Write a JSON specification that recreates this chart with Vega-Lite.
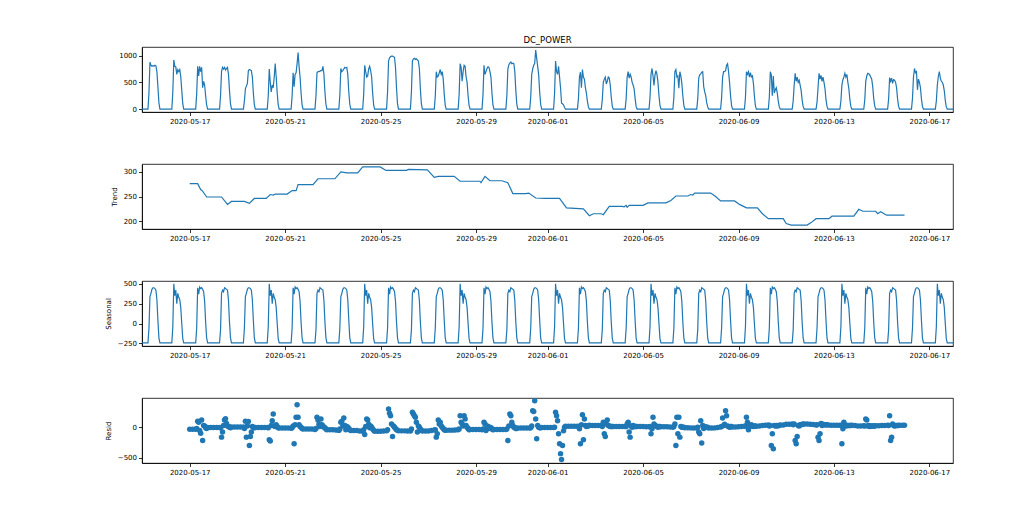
{
"$schema": "https://vega.github.io/schema/vega-lite/v6.json",
"autosize": {"type": "pad"},
"padding": {"left": 103, "top": 35, "right": 5, "bottom": 5},
"background": "white",
"config": {
  "font": "DejaVu Sans",
  "view": {"stroke": "black", "strokeWidth": 0.8},
  "axis": {"labelFontSize": 7, "titleFontSize": 7, "tickSize": 3.5, "tickColor": "black", "domainColor": "black", "domainWidth": 0.8, "tickWidth": 0.8, "grid": false, "labelColor": "black", "titleColor": "black", "titleFontWeight": "normal", "labelPadding": 2, "titlePadding": 6, "labelFont": "DejaVu Sans", "titleFont": "DejaVu Sans"}
},
"datasets": {
"power": [
{"t":"2020-05-15T00:00","v":0},
{"t":"2020-05-15T06:00","v":0},{"t":"2020-05-15T07:00","v":300},{"t":"2020-05-15T08:00","v":880},{"t":"2020-05-15T09:00","v":820},{"t":"2020-05-15T10:00","v":800},{"t":"2020-05-15T11:00","v":810},{"t":"2020-05-15T12:00","v":800},{"t":"2020-05-15T13:00","v":820},{"t":"2020-05-15T14:00","v":810},{"t":"2020-05-15T15:00","v":700},{"t":"2020-05-15T16:00","v":420},{"t":"2020-05-15T17:00","v":120},{"t":"2020-05-15T18:00","v":0},
{"t":"2020-05-16T06:00","v":0},{"t":"2020-05-16T07:00","v":320},{"t":"2020-05-16T08:00","v":920},{"t":"2020-05-16T09:00","v":800},{"t":"2020-05-16T10:00","v":790},{"t":"2020-05-16T11:00","v":650},{"t":"2020-05-16T12:00","v":740},{"t":"2020-05-16T13:00","v":700},{"t":"2020-05-16T14:00","v":740},{"t":"2020-05-16T15:00","v":600},{"t":"2020-05-16T16:00","v":350},{"t":"2020-05-16T17:00","v":100},{"t":"2020-05-16T18:00","v":0},
{"t":"2020-05-17T06:00","v":0},{"t":"2020-05-17T07:00","v":280},{"t":"2020-05-17T08:00","v":800},{"t":"2020-05-17T09:00","v":620},{"t":"2020-05-17T10:00","v":800},{"t":"2020-05-17T11:00","v":700},{"t":"2020-05-17T12:00","v":780},{"t":"2020-05-17T13:00","v":400},{"t":"2020-05-17T14:00","v":520},{"t":"2020-05-17T15:00","v":450},{"t":"2020-05-17T16:00","v":250},{"t":"2020-05-17T17:00","v":80},{"t":"2020-05-17T18:00","v":0},
{"t":"2020-05-18T06:00","v":0},{"t":"2020-05-18T07:00","v":250},{"t":"2020-05-18T08:00","v":700},{"t":"2020-05-18T09:00","v":780},{"t":"2020-05-18T10:00","v":750},{"t":"2020-05-18T11:00","v":780},{"t":"2020-05-18T12:00","v":730},{"t":"2020-05-18T13:00","v":760},{"t":"2020-05-18T14:00","v":780},{"t":"2020-05-18T15:00","v":650},{"t":"2020-05-18T16:00","v":350},{"t":"2020-05-18T17:00","v":100},{"t":"2020-05-18T18:00","v":0},
{"t":"2020-05-19T06:00","v":0},{"t":"2020-05-19T07:00","v":150},{"t":"2020-05-19T08:00","v":380},{"t":"2020-05-19T09:00","v":430},{"t":"2020-05-19T10:00","v":480},{"t":"2020-05-19T11:00","v":720},{"t":"2020-05-19T12:00","v":740},{"t":"2020-05-19T13:00","v":730},{"t":"2020-05-19T14:00","v":720},{"t":"2020-05-19T15:00","v":600},{"t":"2020-05-19T16:00","v":300},{"t":"2020-05-19T17:00","v":80},{"t":"2020-05-19T18:00","v":0},
{"t":"2020-05-20T06:00","v":0},{"t":"2020-05-20T07:00","v":250},{"t":"2020-05-20T08:00","v":750},{"t":"2020-05-20T09:00","v":500},{"t":"2020-05-20T10:00","v":320},{"t":"2020-05-20T11:00","v":450},{"t":"2020-05-20T12:00","v":400},{"t":"2020-05-20T13:00","v":600},{"t":"2020-05-20T14:00","v":850},{"t":"2020-05-20T15:00","v":600},{"t":"2020-05-20T16:00","v":300},{"t":"2020-05-20T17:00","v":80},{"t":"2020-05-20T18:00","v":0},
{"t":"2020-05-21T06:00","v":0},{"t":"2020-05-21T07:00","v":250},{"t":"2020-05-21T08:00","v":680},{"t":"2020-05-21T09:00","v":420},{"t":"2020-05-21T10:00","v":650},{"t":"2020-05-21T11:00","v":680},{"t":"2020-05-21T12:00","v":850},{"t":"2020-05-21T13:00","v":1060},{"t":"2020-05-21T14:00","v":800},{"t":"2020-05-21T15:00","v":600},{"t":"2020-05-21T16:00","v":300},{"t":"2020-05-21T17:00","v":80},{"t":"2020-05-21T18:00","v":0},
{"t":"2020-05-22T06:00","v":0},{"t":"2020-05-22T07:00","v":250},{"t":"2020-05-22T08:00","v":680},{"t":"2020-05-22T09:00","v":700},{"t":"2020-05-22T10:00","v":700},{"t":"2020-05-22T11:00","v":710},{"t":"2020-05-22T12:00","v":720},{"t":"2020-05-22T13:00","v":720},{"t":"2020-05-22T14:00","v":800},{"t":"2020-05-22T15:00","v":650},{"t":"2020-05-22T16:00","v":320},{"t":"2020-05-22T17:00","v":90},{"t":"2020-05-22T18:00","v":0},
{"t":"2020-05-23T06:00","v":0},{"t":"2020-05-23T07:00","v":260},{"t":"2020-05-23T08:00","v":760},{"t":"2020-05-23T09:00","v":700},{"t":"2020-05-23T10:00","v":720},{"t":"2020-05-23T11:00","v":750},{"t":"2020-05-23T12:00","v":780},{"t":"2020-05-23T13:00","v":770},{"t":"2020-05-23T14:00","v":780},{"t":"2020-05-23T15:00","v":650},{"t":"2020-05-23T16:00","v":320},{"t":"2020-05-23T17:00","v":90},{"t":"2020-05-23T18:00","v":0},
{"t":"2020-05-24T06:00","v":0},{"t":"2020-05-24T07:00","v":280},{"t":"2020-05-24T08:00","v":820},{"t":"2020-05-24T09:00","v":700},{"t":"2020-05-24T10:00","v":600},{"t":"2020-05-24T11:00","v":620},{"t":"2020-05-24T12:00","v":750},{"t":"2020-05-24T13:00","v":800},{"t":"2020-05-24T14:00","v":720},{"t":"2020-05-24T15:00","v":600},{"t":"2020-05-24T16:00","v":300},{"t":"2020-05-24T17:00","v":80},{"t":"2020-05-24T18:00","v":0},
{"t":"2020-05-25T06:00","v":0},{"t":"2020-05-25T07:00","v":320},{"t":"2020-05-25T08:00","v":900},{"t":"2020-05-25T09:00","v":960},{"t":"2020-05-25T10:00","v":980},{"t":"2020-05-25T11:00","v":990},{"t":"2020-05-25T12:00","v":990},{"t":"2020-05-25T13:00","v":980},{"t":"2020-05-25T14:00","v":970},{"t":"2020-05-25T15:00","v":780},{"t":"2020-05-25T16:00","v":400},{"t":"2020-05-25T17:00","v":100},{"t":"2020-05-25T18:00","v":0},
{"t":"2020-05-26T06:00","v":0},{"t":"2020-05-26T07:00","v":320},{"t":"2020-05-26T08:00","v":900},{"t":"2020-05-26T09:00","v":940},{"t":"2020-05-26T10:00","v":950},{"t":"2020-05-26T11:00","v":930},{"t":"2020-05-26T12:00","v":940},{"t":"2020-05-26T13:00","v":920},{"t":"2020-05-26T14:00","v":900},{"t":"2020-05-26T15:00","v":760},{"t":"2020-05-26T16:00","v":380},{"t":"2020-05-26T17:00","v":100},{"t":"2020-05-26T18:00","v":0},
{"t":"2020-05-27T06:00","v":0},{"t":"2020-05-27T07:00","v":240},{"t":"2020-05-27T08:00","v":700},{"t":"2020-05-27T09:00","v":600},{"t":"2020-05-27T10:00","v":620},{"t":"2020-05-27T11:00","v":680},{"t":"2020-05-27T12:00","v":740},{"t":"2020-05-27T13:00","v":650},{"t":"2020-05-27T14:00","v":700},{"t":"2020-05-27T15:00","v":560},{"t":"2020-05-27T16:00","v":280},{"t":"2020-05-27T17:00","v":70},{"t":"2020-05-27T18:00","v":0},
{"t":"2020-05-28T06:00","v":0},{"t":"2020-05-28T07:00","v":280},{"t":"2020-05-28T08:00","v":850},{"t":"2020-05-28T09:00","v":780},{"t":"2020-05-28T10:00","v":520},{"t":"2020-05-28T11:00","v":700},{"t":"2020-05-28T12:00","v":820},{"t":"2020-05-28T13:00","v":800},{"t":"2020-05-28T14:00","v":600},{"t":"2020-05-28T15:00","v":500},{"t":"2020-05-28T16:00","v":250},{"t":"2020-05-28T17:00","v":70},{"t":"2020-05-28T18:00","v":0},
{"t":"2020-05-29T06:00","v":0},{"t":"2020-05-29T07:00","v":270},{"t":"2020-05-29T08:00","v":820},{"t":"2020-05-29T09:00","v":650},{"t":"2020-05-29T10:00","v":700},{"t":"2020-05-29T11:00","v":760},{"t":"2020-05-29T12:00","v":790},{"t":"2020-05-29T13:00","v":780},{"t":"2020-05-29T14:00","v":700},{"t":"2020-05-29T15:00","v":600},{"t":"2020-05-29T16:00","v":300},{"t":"2020-05-29T17:00","v":80},{"t":"2020-05-29T18:00","v":0},
{"t":"2020-05-30T06:00","v":0},{"t":"2020-05-30T07:00","v":250},{"t":"2020-05-30T08:00","v":750},{"t":"2020-05-30T09:00","v":830},{"t":"2020-05-30T10:00","v":860},{"t":"2020-05-30T11:00","v":880},{"t":"2020-05-30T12:00","v":850},{"t":"2020-05-30T13:00","v":860},{"t":"2020-05-30T14:00","v":850},{"t":"2020-05-30T15:00","v":700},{"t":"2020-05-30T16:00","v":350},{"t":"2020-05-30T17:00","v":90},{"t":"2020-05-30T18:00","v":0},
{"t":"2020-05-31T06:00","v":0},{"t":"2020-05-31T07:00","v":220},{"t":"2020-05-31T08:00","v":650},{"t":"2020-05-31T09:00","v":750},{"t":"2020-05-31T10:00","v":820},{"t":"2020-05-31T11:00","v":850},{"t":"2020-05-31T12:00","v":1105},{"t":"2020-05-31T13:00","v":950},{"t":"2020-05-31T14:00","v":800},{"t":"2020-05-31T15:00","v":640},{"t":"2020-05-31T16:00","v":320},{"t":"2020-05-31T17:00","v":90},{"t":"2020-05-31T18:00","v":0},
{"t":"2020-06-01T06:00","v":0},{"t":"2020-06-01T07:00","v":300},{"t":"2020-06-01T08:00","v":900},{"t":"2020-06-01T09:00","v":700},{"t":"2020-06-01T10:00","v":650},{"t":"2020-06-01T11:00","v":800},{"t":"2020-06-01T12:00","v":600},{"t":"2020-06-01T13:00","v":400},{"t":"2020-06-01T14:00","v":110},{"t":"2020-06-01T15:00","v":100},{"t":"2020-06-01T16:00","v":80},{"t":"2020-06-01T17:00","v":30},{"t":"2020-06-01T18:00","v":0},
{"t":"2020-06-02T06:00","v":0},{"t":"2020-06-02T07:00","v":200},{"t":"2020-06-02T08:00","v":600},{"t":"2020-06-02T09:00","v":690},{"t":"2020-06-02T10:00","v":400},{"t":"2020-06-02T11:00","v":740},{"t":"2020-06-02T12:00","v":600},{"t":"2020-06-02T13:00","v":560},{"t":"2020-06-02T14:00","v":400},{"t":"2020-06-02T15:00","v":300},{"t":"2020-06-02T16:00","v":150},{"t":"2020-06-02T17:00","v":40},{"t":"2020-06-02T18:00","v":0},
{"t":"2020-06-03T06:00","v":0},{"t":"2020-06-03T07:00","v":180},{"t":"2020-06-03T08:00","v":500},{"t":"2020-06-03T09:00","v":560},{"t":"2020-06-03T10:00","v":600},{"t":"2020-06-03T11:00","v":470},{"t":"2020-06-03T12:00","v":520},{"t":"2020-06-03T13:00","v":600},{"t":"2020-06-03T14:00","v":580},{"t":"2020-06-03T15:00","v":450},{"t":"2020-06-03T16:00","v":220},{"t":"2020-06-03T17:00","v":60},{"t":"2020-06-03T18:00","v":0},
{"t":"2020-06-04T06:00","v":0},{"t":"2020-06-04T07:00","v":200},{"t":"2020-06-04T08:00","v":600},{"t":"2020-06-04T09:00","v":700},{"t":"2020-06-04T10:00","v":580},{"t":"2020-06-04T11:00","v":650},{"t":"2020-06-04T12:00","v":600},{"t":"2020-06-04T13:00","v":500},{"t":"2020-06-04T14:00","v":450},{"t":"2020-06-04T15:00","v":380},{"t":"2020-06-04T16:00","v":200},{"t":"2020-06-04T17:00","v":50},{"t":"2020-06-04T18:00","v":0},
{"t":"2020-06-05T06:00","v":0},{"t":"2020-06-05T07:00","v":220},{"t":"2020-06-05T08:00","v":650},{"t":"2020-06-05T09:00","v":760},{"t":"2020-06-05T10:00","v":620},{"t":"2020-06-05T11:00","v":440},{"t":"2020-06-05T12:00","v":640},{"t":"2020-06-05T13:00","v":720},{"t":"2020-06-05T14:00","v":650},{"t":"2020-06-05T15:00","v":500},{"t":"2020-06-05T16:00","v":250},{"t":"2020-06-05T17:00","v":70},{"t":"2020-06-05T18:00","v":0},
{"t":"2020-06-06T06:00","v":0},{"t":"2020-06-06T07:00","v":220},{"t":"2020-06-06T08:00","v":700},{"t":"2020-06-06T09:00","v":740},{"t":"2020-06-06T10:00","v":600},{"t":"2020-06-06T11:00","v":620},{"t":"2020-06-06T12:00","v":390},{"t":"2020-06-06T13:00","v":700},{"t":"2020-06-06T14:00","v":620},{"t":"2020-06-06T15:00","v":480},{"t":"2020-06-06T16:00","v":250},{"t":"2020-06-06T17:00","v":70},{"t":"2020-06-06T18:00","v":0},
{"t":"2020-06-07T06:00","v":0},{"t":"2020-06-07T07:00","v":190},{"t":"2020-06-07T08:00","v":580},{"t":"2020-06-07T09:00","v":640},{"t":"2020-06-07T10:00","v":660},{"t":"2020-06-07T11:00","v":690},{"t":"2020-06-07T12:00","v":700},{"t":"2020-06-07T13:00","v":420},{"t":"2020-06-07T14:00","v":320},{"t":"2020-06-07T15:00","v":250},{"t":"2020-06-07T16:00","v":120},{"t":"2020-06-07T17:00","v":40},{"t":"2020-06-07T18:00","v":0},
{"t":"2020-06-08T06:00","v":0},{"t":"2020-06-08T07:00","v":210},{"t":"2020-06-08T08:00","v":600},{"t":"2020-06-08T09:00","v":700},{"t":"2020-06-08T10:00","v":700},{"t":"2020-06-08T11:00","v":720},{"t":"2020-06-08T12:00","v":820},{"t":"2020-06-08T13:00","v":850},{"t":"2020-06-08T14:00","v":700},{"t":"2020-06-08T15:00","v":500},{"t":"2020-06-08T16:00","v":250},{"t":"2020-06-08T17:00","v":70},{"t":"2020-06-08T18:00","v":0},
{"t":"2020-06-09T06:00","v":0},{"t":"2020-06-09T07:00","v":220},{"t":"2020-06-09T08:00","v":700},{"t":"2020-06-09T09:00","v":650},{"t":"2020-06-09T10:00","v":700},{"t":"2020-06-09T11:00","v":600},{"t":"2020-06-09T12:00","v":680},{"t":"2020-06-09T13:00","v":600},{"t":"2020-06-09T14:00","v":620},{"t":"2020-06-09T15:00","v":480},{"t":"2020-06-09T16:00","v":240},{"t":"2020-06-09T17:00","v":60},{"t":"2020-06-09T18:00","v":0},
{"t":"2020-06-10T06:00","v":0},{"t":"2020-06-10T07:00","v":220},{"t":"2020-06-10T08:00","v":700},{"t":"2020-06-10T09:00","v":640},{"t":"2020-06-10T10:00","v":250},{"t":"2020-06-10T11:00","v":620},{"t":"2020-06-10T12:00","v":300},{"t":"2020-06-10T13:00","v":360},{"t":"2020-06-10T14:00","v":400},{"t":"2020-06-10T15:00","v":300},{"t":"2020-06-10T16:00","v":150},{"t":"2020-06-10T17:00","v":40},{"t":"2020-06-10T18:00","v":0},
{"t":"2020-06-11T06:00","v":0},{"t":"2020-06-11T07:00","v":150},{"t":"2020-06-11T08:00","v":450},{"t":"2020-06-11T09:00","v":670},{"t":"2020-06-11T10:00","v":520},{"t":"2020-06-11T11:00","v":600},{"t":"2020-06-11T12:00","v":500},{"t":"2020-06-11T13:00","v":540},{"t":"2020-06-11T14:00","v":450},{"t":"2020-06-11T15:00","v":350},{"t":"2020-06-11T16:00","v":170},{"t":"2020-06-11T17:00","v":50},{"t":"2020-06-11T18:00","v":0},
{"t":"2020-06-12T06:00","v":0},{"t":"2020-06-12T07:00","v":130},{"t":"2020-06-12T08:00","v":400},{"t":"2020-06-12T09:00","v":670},{"t":"2020-06-12T10:00","v":560},{"t":"2020-06-12T11:00","v":630},{"t":"2020-06-12T12:00","v":520},{"t":"2020-06-12T13:00","v":600},{"t":"2020-06-12T14:00","v":500},{"t":"2020-06-12T15:00","v":380},{"t":"2020-06-12T16:00","v":180},{"t":"2020-06-12T17:00","v":50},{"t":"2020-06-12T18:00","v":0},
{"t":"2020-06-13T06:00","v":0},{"t":"2020-06-13T07:00","v":150},{"t":"2020-06-13T08:00","v":450},{"t":"2020-06-13T09:00","v":550},{"t":"2020-06-13T10:00","v":600},{"t":"2020-06-13T11:00","v":670},{"t":"2020-06-13T12:00","v":600},{"t":"2020-06-13T13:00","v":650},{"t":"2020-06-13T14:00","v":500},{"t":"2020-06-13T15:00","v":380},{"t":"2020-06-13T16:00","v":180},{"t":"2020-06-13T17:00","v":50},{"t":"2020-06-13T18:00","v":0},
{"t":"2020-06-14T06:00","v":0},{"t":"2020-06-14T07:00","v":170},{"t":"2020-06-14T08:00","v":520},{"t":"2020-06-14T09:00","v":620},{"t":"2020-06-14T10:00","v":670},{"t":"2020-06-14T11:00","v":660},{"t":"2020-06-14T12:00","v":640},{"t":"2020-06-14T13:00","v":600},{"t":"2020-06-14T14:00","v":560},{"t":"2020-06-14T15:00","v":420},{"t":"2020-06-14T16:00","v":200},{"t":"2020-06-14T17:00","v":60},{"t":"2020-06-14T18:00","v":0},
{"t":"2020-06-15T06:00","v":0},{"t":"2020-06-15T07:00","v":190},{"t":"2020-06-15T08:00","v":590},{"t":"2020-06-15T09:00","v":520},{"t":"2020-06-15T10:00","v":580},{"t":"2020-06-15T11:00","v":480},{"t":"2020-06-15T12:00","v":550},{"t":"2020-06-15T13:00","v":540},{"t":"2020-06-15T14:00","v":500},{"t":"2020-06-15T15:00","v":400},{"t":"2020-06-15T16:00","v":190},{"t":"2020-06-15T17:00","v":50},{"t":"2020-06-15T18:00","v":0},
{"t":"2020-06-16T06:00","v":0},{"t":"2020-06-16T07:00","v":200},{"t":"2020-06-16T08:00","v":600},{"t":"2020-06-16T09:00","v":760},{"t":"2020-06-16T10:00","v":680},{"t":"2020-06-16T11:00","v":700},{"t":"2020-06-16T12:00","v":360},{"t":"2020-06-16T13:00","v":560},{"t":"2020-06-16T14:00","v":500},{"t":"2020-06-16T15:00","v":400},{"t":"2020-06-16T16:00","v":190},{"t":"2020-06-16T17:00","v":50},{"t":"2020-06-16T18:00","v":0},
{"t":"2020-06-17T06:00","v":0},{"t":"2020-06-17T07:00","v":150},{"t":"2020-06-17T08:00","v":450},{"t":"2020-06-17T09:00","v":610},{"t":"2020-06-17T10:00","v":700},{"t":"2020-06-17T11:00","v":580},{"t":"2020-06-17T12:00","v":520},{"t":"2020-06-17T13:00","v":500},{"t":"2020-06-17T14:00","v":450},{"t":"2020-06-17T15:00","v":340},{"t":"2020-06-17T16:00","v":160},{"t":"2020-06-17T17:00","v":40},{"t":"2020-06-17T18:00","v":0},
{"t":"2020-06-17T23:45","v":0}
],
"trend": [
{"t":"2020-05-17T00:00","v":276},{"t":"2020-05-17T08:00","v":276},{"t":"2020-05-17T11:00","v":264},{"t":"2020-05-17T13:00","v":261},{"t":"2020-05-17T17:00","v":249},{"t":"2020-05-18T08:00","v":249},{"t":"2020-05-18T14:00","v":234},{"t":"2020-05-18T18:00","v":240},{"t":"2020-05-19T07:00","v":240},{"t":"2020-05-19T12:00","v":236},{"t":"2020-05-19T17:00","v":246},{"t":"2020-05-20T05:00","v":246},{"t":"2020-05-20T09:00","v":254},{"t":"2020-05-20T12:00","v":253},{"t":"2020-05-20T14:00","v":255},{"t":"2020-05-21T02:00","v":255},{"t":"2020-05-21T07:00","v":262},{"t":"2020-05-21T11:00","v":262},{"t":"2020-05-21T13:00","v":274},{"t":"2020-05-22T04:00","v":274},{"t":"2020-05-22T09:00","v":286},{"t":"2020-05-23T02:00","v":286},{"t":"2020-05-23T08:00","v":300},{"t":"2020-05-23T14:00","v":298},{"t":"2020-05-24T01:00","v":298},{"t":"2020-05-24T06:00","v":310},{"t":"2020-05-24T23:30","v":310},{"t":"2020-05-25T05:30","v":303},{"t":"2020-05-26T02:00","v":303},{"t":"2020-05-26T04:00","v":305},{"t":"2020-05-26T23:00","v":304},{"t":"2020-05-27T06:00","v":289},{"t":"2020-05-27T10:00","v":291},{"t":"2020-05-28T02:00","v":291},{"t":"2020-05-28T08:00","v":281},{"t":"2020-05-29T04:00","v":281},{"t":"2020-05-29T05:00","v":278},{"t":"2020-05-29T09:00","v":291},{"t":"2020-05-29T14:00","v":282},{"t":"2020-05-30T02:00","v":282},{"t":"2020-05-30T08:00","v":278},{"t":"2020-05-30T13:00","v":256},{"t":"2020-05-31T02:00","v":256},{"t":"2020-05-31T05:00","v":257},{"t":"2020-05-31T12:00","v":247},{"t":"2020-05-31T21:00","v":246},{"t":"2020-06-01T12:00","v":246},{"t":"2020-06-01T19:00","v":227},{"t":"2020-06-02T12:00","v":225},{"t":"2020-06-02T18:00","v":211},{"t":"2020-06-02T22:00","v":215},{"t":"2020-06-03T06:00","v":215},{"t":"2020-06-03T08:00","v":213},{"t":"2020-06-03T14:00","v":230},{"t":"2020-06-04T03:00","v":230},{"t":"2020-06-04T05:00","v":229},{"t":"2020-06-04T07:00","v":232},{"t":"2020-06-04T08:00","v":228},{"t":"2020-06-04T10:00","v":232},{"t":"2020-06-05T00:00","v":232},{"t":"2020-06-05T05:00","v":237},{"t":"2020-06-05T23:00","v":237},{"t":"2020-06-06T04:00","v":242},{"t":"2020-06-06T09:00","v":251},{"t":"2020-06-06T21:00","v":251},{"t":"2020-06-07T00:00","v":254},{"t":"2020-06-07T02:00","v":253},{"t":"2020-06-07T04:00","v":257},{"t":"2020-06-07T20:00","v":257},{"t":"2020-06-08T01:00","v":250},{"t":"2020-06-08T06:00","v":241},{"t":"2020-06-08T20:00","v":241},{"t":"2020-06-09T01:00","v":234},{"t":"2020-06-09T08:00","v":227},{"t":"2020-06-09T19:00","v":227},{"t":"2020-06-10T00:00","v":215},{"t":"2020-06-10T06:00","v":205},{"t":"2020-06-10T21:00","v":205},{"t":"2020-06-11T00:00","v":195},{"t":"2020-06-11T05:00","v":192},{"t":"2020-06-11T21:00","v":192},{"t":"2020-06-12T01:00","v":197},{"t":"2020-06-12T06:00","v":205},{"t":"2020-06-12T19:00","v":205},{"t":"2020-06-12T22:00","v":210},{"t":"2020-06-13T20:00","v":210},{"t":"2020-06-14T01:00","v":224},{"t":"2020-06-14T05:00","v":220},{"t":"2020-06-14T18:00","v":220},{"t":"2020-06-14T20:00","v":215},{"t":"2020-06-14T23:00","v":219},{"t":"2020-06-15T05:00","v":212},{"t":"2020-06-15T23:00","v":212}
],
"seasonal": [
{"t":"2020-05-15T00:00","v":-243},
{"t":"2020-05-15T06:00","v":-243},{"t":"2020-05-15T07:00","v":-60},{"t":"2020-05-15T08:00","v":340},{"t":"2020-05-15T09:00","v":380},{"t":"2020-05-15T10:00","v":430},{"t":"2020-05-15T11:00","v":450},{"t":"2020-05-15T12:00","v":450},{"t":"2020-05-15T13:00","v":440},{"t":"2020-05-15T14:00","v":420},{"t":"2020-05-15T15:00","v":300},{"t":"2020-05-15T16:00","v":40},{"t":"2020-05-15T17:00","v":-180},{"t":"2020-05-15T18:00","v":-243},
{"t":"2020-05-16T06:00","v":-243},{"t":"2020-05-16T07:00","v":-40},{"t":"2020-05-16T08:00","v":500},{"t":"2020-05-16T09:00","v":350},{"t":"2020-05-16T10:00","v":420},{"t":"2020-05-16T11:00","v":250},{"t":"2020-05-16T12:00","v":380},{"t":"2020-05-16T13:00","v":330},{"t":"2020-05-16T14:00","v":300},{"t":"2020-05-16T15:00","v":200},{"t":"2020-05-16T16:00","v":0},{"t":"2020-05-16T17:00","v":-190},{"t":"2020-05-16T18:00","v":-243},
{"t":"2020-05-17T06:00","v":-243},{"t":"2020-05-17T07:00","v":-60},{"t":"2020-05-17T08:00","v":450},{"t":"2020-05-17T09:00","v":370},{"t":"2020-05-17T10:00","v":460},{"t":"2020-05-17T11:00","v":440},{"t":"2020-05-17T12:00","v":450},{"t":"2020-05-17T13:00","v":430},{"t":"2020-05-17T14:00","v":400},{"t":"2020-05-17T15:00","v":280},{"t":"2020-05-17T16:00","v":20},{"t":"2020-05-17T17:00","v":-180},{"t":"2020-05-17T18:00","v":-243},
{"t":"2020-05-18T06:00","v":-243},{"t":"2020-05-18T07:00","v":-80},{"t":"2020-05-18T08:00","v":380},{"t":"2020-05-18T09:00","v":420},{"t":"2020-05-18T10:00","v":400},{"t":"2020-05-18T11:00","v":450},{"t":"2020-05-18T12:00","v":440},{"t":"2020-05-18T13:00","v":430},{"t":"2020-05-18T14:00","v":420},{"t":"2020-05-18T15:00","v":290},{"t":"2020-05-18T16:00","v":20},{"t":"2020-05-18T17:00","v":-180},{"t":"2020-05-18T18:00","v":-243},
{"t":"2020-05-19T06:00","v":-243},{"t":"2020-05-19T07:00","v":-60},{"t":"2020-05-19T08:00","v":340},{"t":"2020-05-19T09:00","v":380},{"t":"2020-05-19T10:00","v":430},{"t":"2020-05-19T11:00","v":450},{"t":"2020-05-19T12:00","v":450},{"t":"2020-05-19T13:00","v":440},{"t":"2020-05-19T14:00","v":420},{"t":"2020-05-19T15:00","v":300},{"t":"2020-05-19T16:00","v":40},{"t":"2020-05-19T17:00","v":-180},{"t":"2020-05-19T18:00","v":-243},
{"t":"2020-05-20T06:00","v":-243},{"t":"2020-05-20T07:00","v":-40},{"t":"2020-05-20T08:00","v":500},{"t":"2020-05-20T09:00","v":350},{"t":"2020-05-20T10:00","v":420},{"t":"2020-05-20T11:00","v":250},{"t":"2020-05-20T12:00","v":380},{"t":"2020-05-20T13:00","v":330},{"t":"2020-05-20T14:00","v":300},{"t":"2020-05-20T15:00","v":200},{"t":"2020-05-20T16:00","v":0},{"t":"2020-05-20T17:00","v":-190},{"t":"2020-05-20T18:00","v":-243},
{"t":"2020-05-21T06:00","v":-243},{"t":"2020-05-21T07:00","v":-60},{"t":"2020-05-21T08:00","v":450},{"t":"2020-05-21T09:00","v":370},{"t":"2020-05-21T10:00","v":460},{"t":"2020-05-21T11:00","v":440},{"t":"2020-05-21T12:00","v":450},{"t":"2020-05-21T13:00","v":430},{"t":"2020-05-21T14:00","v":400},{"t":"2020-05-21T15:00","v":280},{"t":"2020-05-21T16:00","v":20},{"t":"2020-05-21T17:00","v":-180},{"t":"2020-05-21T18:00","v":-243},
{"t":"2020-05-22T06:00","v":-243},{"t":"2020-05-22T07:00","v":-80},{"t":"2020-05-22T08:00","v":380},{"t":"2020-05-22T09:00","v":420},{"t":"2020-05-22T10:00","v":400},{"t":"2020-05-22T11:00","v":450},{"t":"2020-05-22T12:00","v":440},{"t":"2020-05-22T13:00","v":430},{"t":"2020-05-22T14:00","v":420},{"t":"2020-05-22T15:00","v":290},{"t":"2020-05-22T16:00","v":20},{"t":"2020-05-22T17:00","v":-180},{"t":"2020-05-22T18:00","v":-243},
{"t":"2020-05-23T06:00","v":-243},{"t":"2020-05-23T07:00","v":-60},{"t":"2020-05-23T08:00","v":340},{"t":"2020-05-23T09:00","v":380},{"t":"2020-05-23T10:00","v":430},{"t":"2020-05-23T11:00","v":450},{"t":"2020-05-23T12:00","v":450},{"t":"2020-05-23T13:00","v":440},{"t":"2020-05-23T14:00","v":420},{"t":"2020-05-23T15:00","v":300},{"t":"2020-05-23T16:00","v":40},{"t":"2020-05-23T17:00","v":-180},{"t":"2020-05-23T18:00","v":-243},
{"t":"2020-05-24T06:00","v":-243},{"t":"2020-05-24T07:00","v":-40},{"t":"2020-05-24T08:00","v":500},{"t":"2020-05-24T09:00","v":350},{"t":"2020-05-24T10:00","v":420},{"t":"2020-05-24T11:00","v":250},{"t":"2020-05-24T12:00","v":380},{"t":"2020-05-24T13:00","v":330},{"t":"2020-05-24T14:00","v":300},{"t":"2020-05-24T15:00","v":200},{"t":"2020-05-24T16:00","v":0},{"t":"2020-05-24T17:00","v":-190},{"t":"2020-05-24T18:00","v":-243},
{"t":"2020-05-25T06:00","v":-243},{"t":"2020-05-25T07:00","v":-60},{"t":"2020-05-25T08:00","v":450},{"t":"2020-05-25T09:00","v":370},{"t":"2020-05-25T10:00","v":460},{"t":"2020-05-25T11:00","v":440},{"t":"2020-05-25T12:00","v":450},{"t":"2020-05-25T13:00","v":430},{"t":"2020-05-25T14:00","v":400},{"t":"2020-05-25T15:00","v":280},{"t":"2020-05-25T16:00","v":20},{"t":"2020-05-25T17:00","v":-180},{"t":"2020-05-25T18:00","v":-243},
{"t":"2020-05-26T06:00","v":-243},{"t":"2020-05-26T07:00","v":-80},{"t":"2020-05-26T08:00","v":380},{"t":"2020-05-26T09:00","v":420},{"t":"2020-05-26T10:00","v":400},{"t":"2020-05-26T11:00","v":450},{"t":"2020-05-26T12:00","v":440},{"t":"2020-05-26T13:00","v":430},{"t":"2020-05-26T14:00","v":420},{"t":"2020-05-26T15:00","v":290},{"t":"2020-05-26T16:00","v":20},{"t":"2020-05-26T17:00","v":-180},{"t":"2020-05-26T18:00","v":-243},
{"t":"2020-05-27T06:00","v":-243},{"t":"2020-05-27T07:00","v":-60},{"t":"2020-05-27T08:00","v":340},{"t":"2020-05-27T09:00","v":380},{"t":"2020-05-27T10:00","v":430},{"t":"2020-05-27T11:00","v":450},{"t":"2020-05-27T12:00","v":450},{"t":"2020-05-27T13:00","v":440},{"t":"2020-05-27T14:00","v":420},{"t":"2020-05-27T15:00","v":300},{"t":"2020-05-27T16:00","v":40},{"t":"2020-05-27T17:00","v":-180},{"t":"2020-05-27T18:00","v":-243},
{"t":"2020-05-28T06:00","v":-243},{"t":"2020-05-28T07:00","v":-40},{"t":"2020-05-28T08:00","v":500},{"t":"2020-05-28T09:00","v":350},{"t":"2020-05-28T10:00","v":420},{"t":"2020-05-28T11:00","v":250},{"t":"2020-05-28T12:00","v":380},{"t":"2020-05-28T13:00","v":330},{"t":"2020-05-28T14:00","v":300},{"t":"2020-05-28T15:00","v":200},{"t":"2020-05-28T16:00","v":0},{"t":"2020-05-28T17:00","v":-190},{"t":"2020-05-28T18:00","v":-243},
{"t":"2020-05-29T06:00","v":-243},{"t":"2020-05-29T07:00","v":-60},{"t":"2020-05-29T08:00","v":450},{"t":"2020-05-29T09:00","v":370},{"t":"2020-05-29T10:00","v":460},{"t":"2020-05-29T11:00","v":440},{"t":"2020-05-29T12:00","v":450},{"t":"2020-05-29T13:00","v":430},{"t":"2020-05-29T14:00","v":400},{"t":"2020-05-29T15:00","v":280},{"t":"2020-05-29T16:00","v":20},{"t":"2020-05-29T17:00","v":-180},{"t":"2020-05-29T18:00","v":-243},
{"t":"2020-05-30T06:00","v":-243},{"t":"2020-05-30T07:00","v":-80},{"t":"2020-05-30T08:00","v":380},{"t":"2020-05-30T09:00","v":420},{"t":"2020-05-30T10:00","v":400},{"t":"2020-05-30T11:00","v":450},{"t":"2020-05-30T12:00","v":440},{"t":"2020-05-30T13:00","v":430},{"t":"2020-05-30T14:00","v":420},{"t":"2020-05-30T15:00","v":290},{"t":"2020-05-30T16:00","v":20},{"t":"2020-05-30T17:00","v":-180},{"t":"2020-05-30T18:00","v":-243},
{"t":"2020-05-31T06:00","v":-243},{"t":"2020-05-31T07:00","v":-60},{"t":"2020-05-31T08:00","v":340},{"t":"2020-05-31T09:00","v":380},{"t":"2020-05-31T10:00","v":430},{"t":"2020-05-31T11:00","v":450},{"t":"2020-05-31T12:00","v":450},{"t":"2020-05-31T13:00","v":440},{"t":"2020-05-31T14:00","v":420},{"t":"2020-05-31T15:00","v":300},{"t":"2020-05-31T16:00","v":40},{"t":"2020-05-31T17:00","v":-180},{"t":"2020-05-31T18:00","v":-243},
{"t":"2020-06-01T06:00","v":-243},{"t":"2020-06-01T07:00","v":-40},{"t":"2020-06-01T08:00","v":500},{"t":"2020-06-01T09:00","v":350},{"t":"2020-06-01T10:00","v":420},{"t":"2020-06-01T11:00","v":250},{"t":"2020-06-01T12:00","v":380},{"t":"2020-06-01T13:00","v":330},{"t":"2020-06-01T14:00","v":300},{"t":"2020-06-01T15:00","v":200},{"t":"2020-06-01T16:00","v":0},{"t":"2020-06-01T17:00","v":-190},{"t":"2020-06-01T18:00","v":-243},
{"t":"2020-06-02T06:00","v":-243},{"t":"2020-06-02T07:00","v":-60},{"t":"2020-06-02T08:00","v":450},{"t":"2020-06-02T09:00","v":370},{"t":"2020-06-02T10:00","v":460},{"t":"2020-06-02T11:00","v":440},{"t":"2020-06-02T12:00","v":450},{"t":"2020-06-02T13:00","v":430},{"t":"2020-06-02T14:00","v":400},{"t":"2020-06-02T15:00","v":280},{"t":"2020-06-02T16:00","v":20},{"t":"2020-06-02T17:00","v":-180},{"t":"2020-06-02T18:00","v":-243},
{"t":"2020-06-03T06:00","v":-243},{"t":"2020-06-03T07:00","v":-80},{"t":"2020-06-03T08:00","v":380},{"t":"2020-06-03T09:00","v":420},{"t":"2020-06-03T10:00","v":400},{"t":"2020-06-03T11:00","v":450},{"t":"2020-06-03T12:00","v":440},{"t":"2020-06-03T13:00","v":430},{"t":"2020-06-03T14:00","v":420},{"t":"2020-06-03T15:00","v":290},{"t":"2020-06-03T16:00","v":20},{"t":"2020-06-03T17:00","v":-180},{"t":"2020-06-03T18:00","v":-243},
{"t":"2020-06-04T06:00","v":-243},{"t":"2020-06-04T07:00","v":-60},{"t":"2020-06-04T08:00","v":340},{"t":"2020-06-04T09:00","v":380},{"t":"2020-06-04T10:00","v":430},{"t":"2020-06-04T11:00","v":450},{"t":"2020-06-04T12:00","v":450},{"t":"2020-06-04T13:00","v":440},{"t":"2020-06-04T14:00","v":420},{"t":"2020-06-04T15:00","v":300},{"t":"2020-06-04T16:00","v":40},{"t":"2020-06-04T17:00","v":-180},{"t":"2020-06-04T18:00","v":-243},
{"t":"2020-06-05T06:00","v":-243},{"t":"2020-06-05T07:00","v":-40},{"t":"2020-06-05T08:00","v":500},{"t":"2020-06-05T09:00","v":350},{"t":"2020-06-05T10:00","v":420},{"t":"2020-06-05T11:00","v":250},{"t":"2020-06-05T12:00","v":380},{"t":"2020-06-05T13:00","v":330},{"t":"2020-06-05T14:00","v":300},{"t":"2020-06-05T15:00","v":200},{"t":"2020-06-05T16:00","v":0},{"t":"2020-06-05T17:00","v":-190},{"t":"2020-06-05T18:00","v":-243},
{"t":"2020-06-06T06:00","v":-243},{"t":"2020-06-06T07:00","v":-60},{"t":"2020-06-06T08:00","v":450},{"t":"2020-06-06T09:00","v":370},{"t":"2020-06-06T10:00","v":460},{"t":"2020-06-06T11:00","v":440},{"t":"2020-06-06T12:00","v":450},{"t":"2020-06-06T13:00","v":430},{"t":"2020-06-06T14:00","v":400},{"t":"2020-06-06T15:00","v":280},{"t":"2020-06-06T16:00","v":20},{"t":"2020-06-06T17:00","v":-180},{"t":"2020-06-06T18:00","v":-243},
{"t":"2020-06-07T06:00","v":-243},{"t":"2020-06-07T07:00","v":-80},{"t":"2020-06-07T08:00","v":380},{"t":"2020-06-07T09:00","v":420},{"t":"2020-06-07T10:00","v":400},{"t":"2020-06-07T11:00","v":450},{"t":"2020-06-07T12:00","v":440},{"t":"2020-06-07T13:00","v":430},{"t":"2020-06-07T14:00","v":420},{"t":"2020-06-07T15:00","v":290},{"t":"2020-06-07T16:00","v":20},{"t":"2020-06-07T17:00","v":-180},{"t":"2020-06-07T18:00","v":-243},
{"t":"2020-06-08T06:00","v":-243},{"t":"2020-06-08T07:00","v":-60},{"t":"2020-06-08T08:00","v":340},{"t":"2020-06-08T09:00","v":380},{"t":"2020-06-08T10:00","v":430},{"t":"2020-06-08T11:00","v":450},{"t":"2020-06-08T12:00","v":450},{"t":"2020-06-08T13:00","v":440},{"t":"2020-06-08T14:00","v":420},{"t":"2020-06-08T15:00","v":300},{"t":"2020-06-08T16:00","v":40},{"t":"2020-06-08T17:00","v":-180},{"t":"2020-06-08T18:00","v":-243},
{"t":"2020-06-09T06:00","v":-243},{"t":"2020-06-09T07:00","v":-40},{"t":"2020-06-09T08:00","v":500},{"t":"2020-06-09T09:00","v":350},{"t":"2020-06-09T10:00","v":420},{"t":"2020-06-09T11:00","v":250},{"t":"2020-06-09T12:00","v":380},{"t":"2020-06-09T13:00","v":330},{"t":"2020-06-09T14:00","v":300},{"t":"2020-06-09T15:00","v":200},{"t":"2020-06-09T16:00","v":0},{"t":"2020-06-09T17:00","v":-190},{"t":"2020-06-09T18:00","v":-243},
{"t":"2020-06-10T06:00","v":-243},{"t":"2020-06-10T07:00","v":-60},{"t":"2020-06-10T08:00","v":450},{"t":"2020-06-10T09:00","v":370},{"t":"2020-06-10T10:00","v":460},{"t":"2020-06-10T11:00","v":440},{"t":"2020-06-10T12:00","v":450},{"t":"2020-06-10T13:00","v":430},{"t":"2020-06-10T14:00","v":400},{"t":"2020-06-10T15:00","v":280},{"t":"2020-06-10T16:00","v":20},{"t":"2020-06-10T17:00","v":-180},{"t":"2020-06-10T18:00","v":-243},
{"t":"2020-06-11T06:00","v":-243},{"t":"2020-06-11T07:00","v":-80},{"t":"2020-06-11T08:00","v":380},{"t":"2020-06-11T09:00","v":420},{"t":"2020-06-11T10:00","v":400},{"t":"2020-06-11T11:00","v":450},{"t":"2020-06-11T12:00","v":440},{"t":"2020-06-11T13:00","v":430},{"t":"2020-06-11T14:00","v":420},{"t":"2020-06-11T15:00","v":290},{"t":"2020-06-11T16:00","v":20},{"t":"2020-06-11T17:00","v":-180},{"t":"2020-06-11T18:00","v":-243},
{"t":"2020-06-12T06:00","v":-243},{"t":"2020-06-12T07:00","v":-60},{"t":"2020-06-12T08:00","v":340},{"t":"2020-06-12T09:00","v":380},{"t":"2020-06-12T10:00","v":430},{"t":"2020-06-12T11:00","v":450},{"t":"2020-06-12T12:00","v":450},{"t":"2020-06-12T13:00","v":440},{"t":"2020-06-12T14:00","v":420},{"t":"2020-06-12T15:00","v":300},{"t":"2020-06-12T16:00","v":40},{"t":"2020-06-12T17:00","v":-180},{"t":"2020-06-12T18:00","v":-243},
{"t":"2020-06-13T06:00","v":-243},{"t":"2020-06-13T07:00","v":-40},{"t":"2020-06-13T08:00","v":500},{"t":"2020-06-13T09:00","v":350},{"t":"2020-06-13T10:00","v":420},{"t":"2020-06-13T11:00","v":250},{"t":"2020-06-13T12:00","v":380},{"t":"2020-06-13T13:00","v":330},{"t":"2020-06-13T14:00","v":300},{"t":"2020-06-13T15:00","v":200},{"t":"2020-06-13T16:00","v":0},{"t":"2020-06-13T17:00","v":-190},{"t":"2020-06-13T18:00","v":-243},
{"t":"2020-06-14T06:00","v":-243},{"t":"2020-06-14T07:00","v":-60},{"t":"2020-06-14T08:00","v":450},{"t":"2020-06-14T09:00","v":370},{"t":"2020-06-14T10:00","v":460},{"t":"2020-06-14T11:00","v":440},{"t":"2020-06-14T12:00","v":450},{"t":"2020-06-14T13:00","v":430},{"t":"2020-06-14T14:00","v":400},{"t":"2020-06-14T15:00","v":280},{"t":"2020-06-14T16:00","v":20},{"t":"2020-06-14T17:00","v":-180},{"t":"2020-06-14T18:00","v":-243},
{"t":"2020-06-15T06:00","v":-243},{"t":"2020-06-15T07:00","v":-80},{"t":"2020-06-15T08:00","v":380},{"t":"2020-06-15T09:00","v":420},{"t":"2020-06-15T10:00","v":400},{"t":"2020-06-15T11:00","v":450},{"t":"2020-06-15T12:00","v":440},{"t":"2020-06-15T13:00","v":430},{"t":"2020-06-15T14:00","v":420},{"t":"2020-06-15T15:00","v":290},{"t":"2020-06-15T16:00","v":20},{"t":"2020-06-15T17:00","v":-180},{"t":"2020-06-15T18:00","v":-243},
{"t":"2020-06-16T06:00","v":-243},{"t":"2020-06-16T07:00","v":-60},{"t":"2020-06-16T08:00","v":340},{"t":"2020-06-16T09:00","v":380},{"t":"2020-06-16T10:00","v":430},{"t":"2020-06-16T11:00","v":450},{"t":"2020-06-16T12:00","v":450},{"t":"2020-06-16T13:00","v":440},{"t":"2020-06-16T14:00","v":420},{"t":"2020-06-16T15:00","v":300},{"t":"2020-06-16T16:00","v":40},{"t":"2020-06-16T17:00","v":-180},{"t":"2020-06-16T18:00","v":-243},
{"t":"2020-06-17T06:00","v":-243},{"t":"2020-06-17T07:00","v":-40},{"t":"2020-06-17T08:00","v":500},{"t":"2020-06-17T09:00","v":350},{"t":"2020-06-17T10:00","v":420},{"t":"2020-06-17T11:00","v":250},{"t":"2020-06-17T12:00","v":380},{"t":"2020-06-17T13:00","v":330},{"t":"2020-06-17T14:00","v":300},{"t":"2020-06-17T15:00","v":200},{"t":"2020-06-17T16:00","v":0},{"t":"2020-06-17T17:00","v":-190},{"t":"2020-06-17T18:00","v":-243},
{"t":"2020-06-17T23:45","v":-243}
],
"resid": [
{"t":"2020-05-17T00:00","v":-33},{"t":"2020-05-17T03:00","v":-33},{"t":"2020-05-17T06:00","v":-33},{"t":"2020-05-17T07:00","v":-20},{"t":"2020-05-17T08:00","v":98},{"t":"2020-05-17T09:00","v":80},{"t":"2020-05-17T10:00","v":-54},{"t":"2020-05-17T11:00","v":-98},{"t":"2020-05-17T12:00","v":120},{"t":"2020-05-17T13:00","v":-217},{"t":"2020-05-17T14:00","v":30},{"t":"2020-05-17T15:00","v":20},{"t":"2020-05-17T16:00","v":-10},{"t":"2020-05-17T17:00","v":-20},{"t":"2020-05-17T18:00","v":-6},{"t":"2020-05-17T21:00","v":-6},
{"t":"2020-05-18T00:00","v":-6},{"t":"2020-05-18T03:00","v":-6},{"t":"2020-05-18T06:00","v":-6},{"t":"2020-05-18T07:00","v":-10},{"t":"2020-05-18T08:00","v":-163},{"t":"2020-05-18T09:00","v":-80},{"t":"2020-05-18T10:00","v":30},{"t":"2020-05-18T11:00","v":120},{"t":"2020-05-18T12:00","v":140},{"t":"2020-05-18T13:00","v":60},{"t":"2020-05-18T14:00","v":20},{"t":"2020-05-18T15:00","v":10},{"t":"2020-05-18T16:00","v":0},{"t":"2020-05-18T17:00","v":-10},{"t":"2020-05-18T18:00","v":3},{"t":"2020-05-18T21:00","v":3},
{"t":"2020-05-19T00:00","v":3},{"t":"2020-05-19T03:00","v":3},{"t":"2020-05-19T06:00","v":3},{"t":"2020-05-19T07:00","v":-20},{"t":"2020-05-19T08:00","v":98},{"t":"2020-05-19T09:00","v":-163},{"t":"2020-05-19T10:00","v":20},{"t":"2020-05-19T11:00","v":95},{"t":"2020-05-19T12:00","v":-300},{"t":"2020-05-19T13:00","v":-152},{"t":"2020-05-19T14:00","v":-80},{"t":"2020-05-19T15:00","v":10},{"t":"2020-05-19T16:00","v":0},{"t":"2020-05-19T17:00","v":-10},{"t":"2020-05-19T18:00","v":-3},{"t":"2020-05-19T21:00","v":-3},
{"t":"2020-05-20T00:00","v":-3},{"t":"2020-05-20T03:00","v":-3},{"t":"2020-05-20T06:00","v":-3},{"t":"2020-05-20T07:00","v":-10},{"t":"2020-05-20T08:00","v":-206},{"t":"2020-05-20T09:00","v":-228},{"t":"2020-05-20T10:00","v":30},{"t":"2020-05-20T11:00","v":108},{"t":"2020-05-20T12:00","v":217},{"t":"2020-05-20T13:00","v":20},{"t":"2020-05-20T14:00","v":10},{"t":"2020-05-20T15:00","v":40},{"t":"2020-05-20T16:00","v":10},{"t":"2020-05-20T17:00","v":-10},{"t":"2020-05-20T18:00","v":-12},{"t":"2020-05-20T21:00","v":-12},
{"t":"2020-05-21T00:00","v":-12},{"t":"2020-05-21T03:00","v":-14},{"t":"2020-05-21T06:00","v":-18},{"t":"2020-05-21T07:00","v":-10},{"t":"2020-05-21T08:00","v":20},{"t":"2020-05-21T09:00","v":-271},{"t":"2020-05-21T10:00","v":40},{"t":"2020-05-21T11:00","v":163},{"t":"2020-05-21T12:00","v":370},{"t":"2020-05-21T13:00","v":163},{"t":"2020-05-21T14:00","v":40},{"t":"2020-05-21T15:00","v":10},{"t":"2020-05-21T16:00","v":0},{"t":"2020-05-21T17:00","v":-20},{"t":"2020-05-21T18:00","v":-31},{"t":"2020-05-21T21:00","v":-31},
{"t":"2020-05-22T00:00","v":-31},{"t":"2020-05-22T03:00","v":-31},{"t":"2020-05-22T06:00","v":-36},{"t":"2020-05-22T07:00","v":-20},{"t":"2020-05-22T08:00","v":163},{"t":"2020-05-22T09:00","v":120},{"t":"2020-05-22T10:00","v":50},{"t":"2020-05-22T11:00","v":10},{"t":"2020-05-22T12:00","v":136},{"t":"2020-05-22T13:00","v":40},{"t":"2020-05-22T14:00","v":20},{"t":"2020-05-22T15:00","v":0},{"t":"2020-05-22T16:00","v":-10},{"t":"2020-05-22T17:00","v":-30},{"t":"2020-05-22T18:00","v":-43},{"t":"2020-05-22T21:00","v":-43},
{"t":"2020-05-23T00:00","v":-43},{"t":"2020-05-23T03:00","v":-45},{"t":"2020-05-23T06:00","v":-52},{"t":"2020-05-23T07:00","v":-30},{"t":"2020-05-23T08:00","v":81},{"t":"2020-05-23T09:00","v":100},{"t":"2020-05-23T10:00","v":20},{"t":"2020-05-23T11:00","v":152},{"t":"2020-05-23T12:00","v":30},{"t":"2020-05-23T13:00","v":-40},{"t":"2020-05-23T14:00","v":10},{"t":"2020-05-23T15:00","v":0},{"t":"2020-05-23T16:00","v":-20},{"t":"2020-05-23T17:00","v":-40},{"t":"2020-05-23T18:00","v":-55},{"t":"2020-05-23T21:00","v":-55},
{"t":"2020-05-24T00:00","v":-55},{"t":"2020-05-24T03:00","v":-61},{"t":"2020-05-24T06:00","v":-67},{"t":"2020-05-24T07:00","v":-40},{"t":"2020-05-24T08:00","v":-120},{"t":"2020-05-24T09:00","v":10},{"t":"2020-05-24T10:00","v":136},{"t":"2020-05-24T11:00","v":120},{"t":"2020-05-24T12:00","v":50},{"t":"2020-05-24T13:00","v":-10},{"t":"2020-05-24T14:00","v":20},{"t":"2020-05-24T15:00","v":0},{"t":"2020-05-24T16:00","v":-30},{"t":"2020-05-24T17:00","v":-50},{"t":"2020-05-24T18:00","v":-67},{"t":"2020-05-24T21:00","v":-67},
{"t":"2020-05-25T00:00","v":-67},{"t":"2020-05-25T03:00","v":-63},{"t":"2020-05-25T06:00","v":-60},{"t":"2020-05-25T07:00","v":-40},{"t":"2020-05-25T08:00","v":300},{"t":"2020-05-25T09:00","v":228},{"t":"2020-05-25T10:00","v":190},{"t":"2020-05-25T11:00","v":54},{"t":"2020-05-25T12:00","v":-152},{"t":"2020-05-25T13:00","v":20},{"t":"2020-05-25T14:00","v":0},{"t":"2020-05-25T15:00","v":-20},{"t":"2020-05-25T16:00","v":-40},{"t":"2020-05-25T17:00","v":-50},{"t":"2020-05-25T18:00","v":-60},{"t":"2020-05-25T21:00","v":-60},
{"t":"2020-05-26T00:00","v":-60},{"t":"2020-05-26T03:00","v":-61},{"t":"2020-05-26T06:00","v":-62},{"t":"2020-05-26T07:00","v":-30},{"t":"2020-05-26T08:00","v":245},{"t":"2020-05-26T09:00","v":217},{"t":"2020-05-26T10:00","v":190},{"t":"2020-05-26T11:00","v":163},{"t":"2020-05-26T12:00","v":81},{"t":"2020-05-26T13:00","v":-80},{"t":"2020-05-26T14:00","v":20},{"t":"2020-05-26T15:00","v":0},{"t":"2020-05-26T16:00","v":-30},{"t":"2020-05-26T17:00","v":-50},{"t":"2020-05-26T18:00","v":-61},{"t":"2020-05-26T21:00","v":-61},
{"t":"2020-05-27T00:00","v":-61},{"t":"2020-05-27T03:00","v":-54},{"t":"2020-05-27T06:00","v":-46},{"t":"2020-05-27T07:00","v":-40},{"t":"2020-05-27T08:00","v":-163},{"t":"2020-05-27T09:00","v":-109},{"t":"2020-05-27T10:00","v":120},{"t":"2020-05-27T11:00","v":54},{"t":"2020-05-27T12:00","v":81},{"t":"2020-05-27T13:00","v":20},{"t":"2020-05-27T14:00","v":0},{"t":"2020-05-27T15:00","v":-20},{"t":"2020-05-27T16:00","v":-40},{"t":"2020-05-27T17:00","v":-50},{"t":"2020-05-27T18:00","v":-48},{"t":"2020-05-27T21:00","v":-48},
{"t":"2020-05-28T00:00","v":-48},{"t":"2020-05-28T03:00","v":-45},{"t":"2020-05-28T06:00","v":-41},{"t":"2020-05-28T07:00","v":-30},{"t":"2020-05-28T08:00","v":190},{"t":"2020-05-28T09:00","v":81},{"t":"2020-05-28T10:00","v":54},{"t":"2020-05-28T11:00","v":20},{"t":"2020-05-28T12:00","v":190},{"t":"2020-05-28T13:00","v":136},{"t":"2020-05-28T14:00","v":30},{"t":"2020-05-28T15:00","v":0},{"t":"2020-05-28T16:00","v":-20},{"t":"2020-05-28T17:00","v":-40},{"t":"2020-05-28T18:00","v":-38},{"t":"2020-05-28T21:00","v":-38},
{"t":"2020-05-29T00:00","v":-38},{"t":"2020-05-29T03:00","v":-38},{"t":"2020-05-29T06:00","v":-40},{"t":"2020-05-29T07:00","v":-30},{"t":"2020-05-29T08:00","v":81},{"t":"2020-05-29T09:00","v":54},{"t":"2020-05-29T10:00","v":-54},{"t":"2020-05-29T11:00","v":20},{"t":"2020-05-29T12:00","v":10},{"t":"2020-05-29T13:00","v":-20},{"t":"2020-05-29T14:00","v":0},{"t":"2020-05-29T15:00","v":-10},{"t":"2020-05-29T16:00","v":-30},{"t":"2020-05-29T17:00","v":-40},{"t":"2020-05-29T18:00","v":-39},{"t":"2020-05-29T21:00","v":-39},
{"t":"2020-05-30T00:00","v":-39},{"t":"2020-05-30T03:00","v":-39},{"t":"2020-05-30T06:00","v":-37},{"t":"2020-05-30T07:00","v":-30},{"t":"2020-05-30T08:00","v":-217},{"t":"2020-05-30T09:00","v":20},{"t":"2020-05-30T10:00","v":217},{"t":"2020-05-30T11:00","v":190},{"t":"2020-05-30T12:00","v":81},{"t":"2020-05-30T13:00","v":30},{"t":"2020-05-30T14:00","v":0},{"t":"2020-05-30T15:00","v":-10},{"t":"2020-05-30T16:00","v":-20},{"t":"2020-05-30T17:00","v":-20},{"t":"2020-05-30T18:00","v":-13},{"t":"2020-05-30T21:00","v":-13},
{"t":"2020-05-31T00:00","v":-13},{"t":"2020-05-31T03:00","v":-13},{"t":"2020-05-31T06:00","v":-14},{"t":"2020-05-31T07:00","v":-10},{"t":"2020-05-31T08:00","v":20},{"t":"2020-05-31T09:00","v":271},{"t":"2020-05-31T10:00","v":260},{"t":"2020-05-31T11:00","v":434},{"t":"2020-05-31T12:00","v":136},{"t":"2020-05-31T13:00","v":-190},{"t":"2020-05-31T14:00","v":30},{"t":"2020-05-31T15:00","v":0},{"t":"2020-05-31T16:00","v":-10},{"t":"2020-05-31T17:00","v":-10},{"t":"2020-05-31T18:00","v":-3},{"t":"2020-05-31T21:00","v":-3},
{"t":"2020-06-01T00:00","v":-3},{"t":"2020-06-01T03:00","v":-3},{"t":"2020-06-01T06:00","v":-3},{"t":"2020-06-01T07:00","v":0},{"t":"2020-06-01T08:00","v":245},{"t":"2020-06-01T09:00","v":190},{"t":"2020-06-01T10:00","v":108},{"t":"2020-06-01T11:00","v":-109},{"t":"2020-06-01T12:00","v":-271},{"t":"2020-06-01T13:00","v":-434},{"t":"2020-06-01T14:00","v":-532},{"t":"2020-06-01T15:00","v":-300},{"t":"2020-06-01T16:00","v":-60},{"t":"2020-06-01T17:00","v":0},{"t":"2020-06-01T18:00","v":14},{"t":"2020-06-01T21:00","v":16},
{"t":"2020-06-02T00:00","v":16},{"t":"2020-06-02T03:00","v":17},{"t":"2020-06-02T06:00","v":17},{"t":"2020-06-02T07:00","v":10},{"t":"2020-06-02T08:00","v":-27},{"t":"2020-06-02T09:00","v":-271},{"t":"2020-06-02T10:00","v":40},{"t":"2020-06-02T11:00","v":206},{"t":"2020-06-02T12:00","v":-206},{"t":"2020-06-02T13:00","v":136},{"t":"2020-06-02T14:00","v":30},{"t":"2020-06-02T15:00","v":10},{"t":"2020-06-02T16:00","v":20},{"t":"2020-06-02T17:00","v":20},{"t":"2020-06-02T18:00","v":32},{"t":"2020-06-02T21:00","v":29},
{"t":"2020-06-03T00:00","v":28},{"t":"2020-06-03T03:00","v":28},{"t":"2020-06-03T06:00","v":28},{"t":"2020-06-03T07:00","v":10},{"t":"2020-06-03T08:00","v":81},{"t":"2020-06-03T09:00","v":-109},{"t":"2020-06-03T10:00","v":-152},{"t":"2020-06-03T11:00","v":54},{"t":"2020-06-03T12:00","v":120},{"t":"2020-06-03T13:00","v":30},{"t":"2020-06-03T14:00","v":20},{"t":"2020-06-03T15:00","v":10},{"t":"2020-06-03T16:00","v":10},{"t":"2020-06-03T17:00","v":10},{"t":"2020-06-03T18:00","v":13},{"t":"2020-06-03T21:00","v":13},
{"t":"2020-06-04T00:00","v":13},{"t":"2020-06-04T03:00","v":13},{"t":"2020-06-04T06:00","v":13},{"t":"2020-06-04T07:00","v":10},{"t":"2020-06-04T08:00","v":54},{"t":"2020-06-04T09:00","v":81},{"t":"2020-06-04T10:00","v":-80},{"t":"2020-06-04T11:00","v":-163},{"t":"2020-06-04T12:00","v":20},{"t":"2020-06-04T13:00","v":0},{"t":"2020-06-04T14:00","v":30},{"t":"2020-06-04T15:00","v":10},{"t":"2020-06-04T16:00","v":10},{"t":"2020-06-04T17:00","v":10},{"t":"2020-06-04T18:00","v":11},{"t":"2020-06-04T21:00","v":11},
{"t":"2020-06-05T00:00","v":11},{"t":"2020-06-05T03:00","v":8},{"t":"2020-06-05T06:00","v":6},{"t":"2020-06-05T07:00","v":10},{"t":"2020-06-05T08:00","v":-109},{"t":"2020-06-05T09:00","v":-27},{"t":"2020-06-05T10:00","v":163},{"t":"2020-06-05T11:00","v":54},{"t":"2020-06-05T12:00","v":30},{"t":"2020-06-05T13:00","v":20},{"t":"2020-06-05T14:00","v":10},{"t":"2020-06-05T15:00","v":0},{"t":"2020-06-05T16:00","v":10},{"t":"2020-06-05T17:00","v":10},{"t":"2020-06-05T18:00","v":6},{"t":"2020-06-05T21:00","v":6},
{"t":"2020-06-06T00:00","v":6},{"t":"2020-06-06T03:00","v":3},{"t":"2020-06-06T06:00","v":-2},{"t":"2020-06-06T07:00","v":10},{"t":"2020-06-06T08:00","v":54},{"t":"2020-06-06T09:00","v":-300},{"t":"2020-06-06T10:00","v":163},{"t":"2020-06-06T11:00","v":-109},{"t":"2020-06-06T12:00","v":163},{"t":"2020-06-06T13:00","v":-163},{"t":"2020-06-06T14:00","v":10},{"t":"2020-06-06T15:00","v":0},{"t":"2020-06-06T16:00","v":0},{"t":"2020-06-06T17:00","v":0},{"t":"2020-06-06T18:00","v":-8},{"t":"2020-06-06T21:00","v":-8},
{"t":"2020-06-07T00:00","v":-11},{"t":"2020-06-07T03:00","v":-12},{"t":"2020-06-07T06:00","v":-14},{"t":"2020-06-07T07:00","v":0},{"t":"2020-06-07T08:00","v":-80},{"t":"2020-06-07T09:00","v":-109},{"t":"2020-06-07T10:00","v":108},{"t":"2020-06-07T11:00","v":-260},{"t":"2020-06-07T12:00","v":30},{"t":"2020-06-07T13:00","v":-20},{"t":"2020-06-07T14:00","v":10},{"t":"2020-06-07T15:00","v":0},{"t":"2020-06-07T16:00","v":0},{"t":"2020-06-07T17:00","v":0},{"t":"2020-06-07T18:00","v":-14},{"t":"2020-06-07T21:00","v":-12},
{"t":"2020-06-08T00:00","v":-11},{"t":"2020-06-08T03:00","v":-5},{"t":"2020-06-08T06:00","v":2},{"t":"2020-06-08T07:00","v":10},{"t":"2020-06-08T08:00","v":152},{"t":"2020-06-08T09:00","v":30},{"t":"2020-06-08T10:00","v":50},{"t":"2020-06-08T11:00","v":271},{"t":"2020-06-08T12:00","v":190},{"t":"2020-06-08T13:00","v":20},{"t":"2020-06-08T14:00","v":10},{"t":"2020-06-08T15:00","v":0},{"t":"2020-06-08T16:00","v":10},{"t":"2020-06-08T17:00","v":10},{"t":"2020-06-08T18:00","v":2},{"t":"2020-06-08T21:00","v":4},
{"t":"2020-06-09T00:00","v":6},{"t":"2020-06-09T03:00","v":11},{"t":"2020-06-09T06:00","v":14},{"t":"2020-06-09T07:00","v":20},{"t":"2020-06-09T08:00","v":163},{"t":"2020-06-09T09:00","v":81},{"t":"2020-06-09T10:00","v":-43},{"t":"2020-06-09T11:00","v":30},{"t":"2020-06-09T12:00","v":20},{"t":"2020-06-09T13:00","v":40},{"t":"2020-06-09T14:00","v":20},{"t":"2020-06-09T15:00","v":10},{"t":"2020-06-09T16:00","v":20},{"t":"2020-06-09T17:00","v":20},{"t":"2020-06-09T18:00","v":16},{"t":"2020-06-09T21:00","v":20},
{"t":"2020-06-10T00:00","v":28},{"t":"2020-06-10T03:00","v":33},{"t":"2020-06-10T06:00","v":38},{"t":"2020-06-10T07:00","v":20},{"t":"2020-06-10T08:00","v":30},{"t":"2020-06-10T09:00","v":-300},{"t":"2020-06-10T10:00","v":-109},{"t":"2020-06-10T11:00","v":-353},{"t":"2020-06-10T12:00","v":30},{"t":"2020-06-10T13:00","v":20},{"t":"2020-06-10T14:00","v":30},{"t":"2020-06-10T15:00","v":20},{"t":"2020-06-10T16:00","v":30},{"t":"2020-06-10T17:00","v":30},{"t":"2020-06-10T18:00","v":38},{"t":"2020-06-10T21:00","v":38},
{"t":"2020-06-11T00:00","v":48},{"t":"2020-06-11T03:00","v":50},{"t":"2020-06-11T06:00","v":51},{"t":"2020-06-11T07:00","v":40},{"t":"2020-06-11T08:00","v":54},{"t":"2020-06-11T09:00","v":-217},{"t":"2020-06-11T10:00","v":-271},{"t":"2020-06-11T11:00","v":-152},{"t":"2020-06-11T12:00","v":30},{"t":"2020-06-11T13:00","v":20},{"t":"2020-06-11T14:00","v":40},{"t":"2020-06-11T15:00","v":40},{"t":"2020-06-11T16:00","v":50},{"t":"2020-06-11T17:00","v":50},{"t":"2020-06-11T18:00","v":51},{"t":"2020-06-11T21:00","v":51},
{"t":"2020-06-12T00:00","v":50},{"t":"2020-06-12T03:00","v":43},{"t":"2020-06-12T06:00","v":38},{"t":"2020-06-12T07:00","v":40},{"t":"2020-06-12T08:00","v":-163},{"t":"2020-06-12T09:00","v":-217},{"t":"2020-06-12T10:00","v":-109},{"t":"2020-06-12T11:00","v":60},{"t":"2020-06-12T12:00","v":30},{"t":"2020-06-12T13:00","v":50},{"t":"2020-06-12T14:00","v":40},{"t":"2020-06-12T15:00","v":40},{"t":"2020-06-12T16:00","v":40},{"t":"2020-06-12T17:00","v":40},{"t":"2020-06-12T18:00","v":38},{"t":"2020-06-12T21:00","v":33},
{"t":"2020-06-13T00:00","v":33},{"t":"2020-06-13T03:00","v":33},{"t":"2020-06-13T06:00","v":33},{"t":"2020-06-13T07:00","v":30},{"t":"2020-06-13T08:00","v":-271},{"t":"2020-06-13T09:00","v":-27},{"t":"2020-06-13T10:00","v":81},{"t":"2020-06-13T11:00","v":40},{"t":"2020-06-13T12:00","v":20},{"t":"2020-06-13T13:00","v":30},{"t":"2020-06-13T14:00","v":30},{"t":"2020-06-13T15:00","v":30},{"t":"2020-06-13T16:00","v":30},{"t":"2020-06-13T17:00","v":30},{"t":"2020-06-13T18:00","v":33},{"t":"2020-06-13T21:00","v":30},
{"t":"2020-06-14T00:00","v":19},{"t":"2020-06-14T03:00","v":21},{"t":"2020-06-14T06:00","v":23},{"t":"2020-06-14T07:00","v":20},{"t":"2020-06-14T08:00","v":136},{"t":"2020-06-14T09:00","v":120},{"t":"2020-06-14T10:00","v":20},{"t":"2020-06-14T11:00","v":30},{"t":"2020-06-14T12:00","v":10},{"t":"2020-06-14T13:00","v":20},{"t":"2020-06-14T14:00","v":20},{"t":"2020-06-14T15:00","v":20},{"t":"2020-06-14T16:00","v":20},{"t":"2020-06-14T17:00","v":20},{"t":"2020-06-14T18:00","v":23},{"t":"2020-06-14T21:00","v":25},
{"t":"2020-06-15T00:00","v":27},{"t":"2020-06-15T03:00","v":29},{"t":"2020-06-15T06:00","v":31},{"t":"2020-06-15T07:00","v":30},{"t":"2020-06-15T08:00","v":190},{"t":"2020-06-15T09:00","v":-217},{"t":"2020-06-15T10:00","v":-163},{"t":"2020-06-15T11:00","v":54},{"t":"2020-06-15T12:00","v":30},{"t":"2020-06-15T13:00","v":20},{"t":"2020-06-15T14:00","v":30},{"t":"2020-06-15T15:00","v":30},{"t":"2020-06-15T16:00","v":30},{"t":"2020-06-15T17:00","v":30},{"t":"2020-06-15T18:00","v":31},{"t":"2020-06-15T21:00","v":31},{"t":"2020-06-15T23:00","v":31}
]
},
"vconcat": [
{
  "title": {"text": "DC_POWER", "fontSize": 8.5, "fontWeight": "normal", "font": "DejaVu Sans", "offset": 3, "color": "black"},
  "width": 811, "height": 65,
  "data": {"name": "power"},
  "mark": {"type": "line", "color": "#1f77b4", "strokeWidth": 1.2},
  "encoding": {
    "x": {"field": "t", "type": "temporal", "scale": {"domain": [{"year": 2020, "month": 5, "date": 15}, {"year": 2020, "month": 6, "date": 17, "hours": 23, "minutes": 45}], "nice": false}, "axis": {"title": null, "format": "%Y-%m-%d", "labelAngle": 0, "labelFlush": false, "labelOverlap": false, "values": [{"year": 2020, "month": 5, "date": 17}, {"year": 2020, "month": 5, "date": 21}, {"year": 2020, "month": 5, "date": 25}, {"year": 2020, "month": 5, "date": 29}, {"year": 2020, "month": 6, "date": 1}, {"year": 2020, "month": 6, "date": 5}, {"year": 2020, "month": 6, "date": 9}, {"year": 2020, "month": 6, "date": 13}, {"year": 2020, "month": 6, "date": 17}]}},
    "y": {"field": "v", "type": "quantitative", "scale": {"domain": [-55, 1162], "nice": false, "zero": false}, "axis": {"title": null, "format": "d", "values": [0, 500, 1000]}}
  }
},
{
  "width": 811, "height": 65,
  "data": {"name": "trend"},
  "mark": {"type": "line", "color": "#1f77b4", "strokeWidth": 1.2},
  "encoding": {
    "x": {"field": "t", "type": "temporal", "scale": {"domain": [{"year": 2020, "month": 5, "date": 15}, {"year": 2020, "month": 6, "date": 17, "hours": 23, "minutes": 45}], "nice": false}, "axis": {"title": null, "format": "%Y-%m-%d", "labelAngle": 0, "labelFlush": false, "labelOverlap": false, "values": [{"year": 2020, "month": 5, "date": 17}, {"year": 2020, "month": 5, "date": 21}, {"year": 2020, "month": 5, "date": 25}, {"year": 2020, "month": 5, "date": 29}, {"year": 2020, "month": 6, "date": 1}, {"year": 2020, "month": 6, "date": 5}, {"year": 2020, "month": 6, "date": 9}, {"year": 2020, "month": 6, "date": 13}, {"year": 2020, "month": 6, "date": 17}]}},
    "y": {"field": "v", "type": "quantitative", "scale": {"domain": [184, 316], "nice": false, "zero": false}, "axis": {"title": "Trend", "format": "d", "values": [200, 250, 300]}}
  }
},
{
  "width": 811, "height": 65,
  "data": {"name": "seasonal"},
  "mark": {"type": "line", "color": "#1f77b4", "strokeWidth": 1.2},
  "encoding": {
    "x": {"field": "t", "type": "temporal", "scale": {"domain": [{"year": 2020, "month": 5, "date": 15}, {"year": 2020, "month": 6, "date": 17, "hours": 23, "minutes": 45}], "nice": false}, "axis": {"title": null, "format": "%Y-%m-%d", "labelAngle": 0, "labelFlush": false, "labelOverlap": false, "values": [{"year": 2020, "month": 5, "date": 17}, {"year": 2020, "month": 5, "date": 21}, {"year": 2020, "month": 5, "date": 25}, {"year": 2020, "month": 5, "date": 29}, {"year": 2020, "month": 6, "date": 1}, {"year": 2020, "month": 6, "date": 5}, {"year": 2020, "month": 6, "date": 9}, {"year": 2020, "month": 6, "date": 13}, {"year": 2020, "month": 6, "date": 17}]}},
    "y": {"field": "v", "type": "quantitative", "scale": {"domain": [-283, 535], "nice": false, "zero": false}, "axis": {"title": "Seasonal", "format": "d", "values": [-250, 0, 250, 500], "labelExpr": "replace(datum.label, '-', '\u2212')"}}
  }
},
{
  "width": 811, "height": 65,
  "layer": [
    {
      "mark": {"type": "rule", "color": "black", "strokeWidth": 1},
      "encoding": {"y": {"datum": 0, "type": "quantitative", "scale": {"domain": [-588, 480], "nice": false, "zero": false}}}
    },
    {
      "data": {"name": "resid"},
      "mark": {"type": "point", "filled": true, "color": "#1f77b4", "opacity": 1, "size": 30, "shape": "circle"},
      "encoding": {
        "x": {"field": "t", "type": "temporal", "scale": {"domain": [{"year": 2020, "month": 5, "date": 15}, {"year": 2020, "month": 6, "date": 17, "hours": 23, "minutes": 45}], "nice": false}, "axis": {"title": null, "format": "%Y-%m-%d", "labelAngle": 0, "labelFlush": false, "labelOverlap": false, "values": [{"year": 2020, "month": 5, "date": 17}, {"year": 2020, "month": 5, "date": 21}, {"year": 2020, "month": 5, "date": 25}, {"year": 2020, "month": 5, "date": 29}, {"year": 2020, "month": 6, "date": 1}, {"year": 2020, "month": 6, "date": 5}, {"year": 2020, "month": 6, "date": 9}, {"year": 2020, "month": 6, "date": 13}, {"year": 2020, "month": 6, "date": 17}]}},
        "y": {"field": "v", "type": "quantitative", "scale": {"domain": [-588, 480], "nice": false, "zero": false}, "axis": {"title": "Resid", "format": "d", "values": [-500, 0], "labelExpr": "replace(datum.label, '-', '\u2212')"}}
      }
    }
  ]
}
],
"spacing": 52,
"bounds": "flush"
}
